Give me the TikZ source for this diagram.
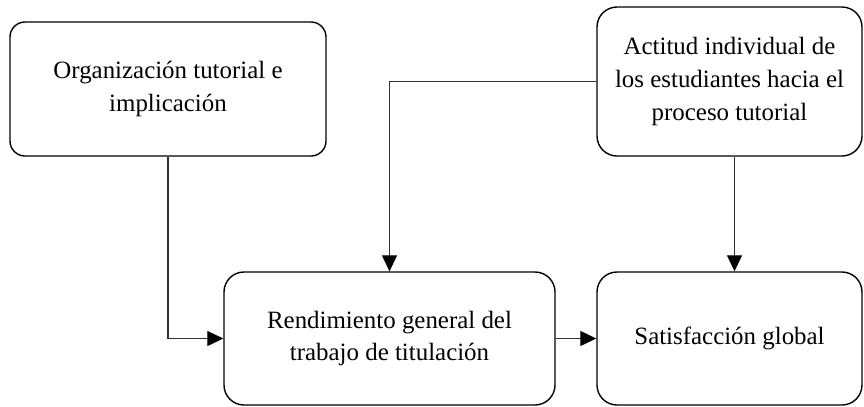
\documentclass[tikz,border=0pt]{standalone}
\usepackage{fontspec}
\setmainfont{Liberation Serif}
\usetikzlibrary{positioning,arrows.meta,calc}
\definecolor{LinkGray}{RGB}{50, 50, 50}

\begin{document}
\begin{tikzpicture}[x=1bp, y=-1bp,
    block/.style={rectangle, rounded corners=20bp, draw=black, line width=1.4bp, align=center, font=\fontsize{25}{33}\selectfont, inner sep=0pt},
    link/.style={draw=LinkGray, line width=1.1bp, -{Triangle[length=16bp, width=15bp, color=black, fill=black]}}
]
    \useasboundingbox (0, 0) rectangle (864, 406);

    % Top row - antecedents
    \node[block, rounded corners=15bp, minimum width=316bp, minimum height=134bp] (org) at (168, 89) {Organización tutorial e\\implicación};
    \node[block, minimum width=265bp, minimum height=149bp] (act) at (729.5, 81.5) {Actitud individual de\\los estudiantes hacia el\\proceso tutorial};

    % Bottom row - outcomes
    \node[block, minimum width=331bp, minimum height=133bp] (rend) at (389.5, 338.5) {Rendimiento general del\\trabajo de titulación};
    \node[block, minimum width=265bp, minimum height=133bp] (sat) at (729.5, 338.5) {Satisfacción global};

    % Connectors
    \draw[link] (org.south) |- (rend.west);
    \draw[link] (act.west) -| (rend.north);
    \draw[link] ([xshift=5bp]act.south) -- ([xshift=5bp]sat.north);
    \draw[link] (rend.east) -- (sat.west);
\end{tikzpicture}
\end{document}
